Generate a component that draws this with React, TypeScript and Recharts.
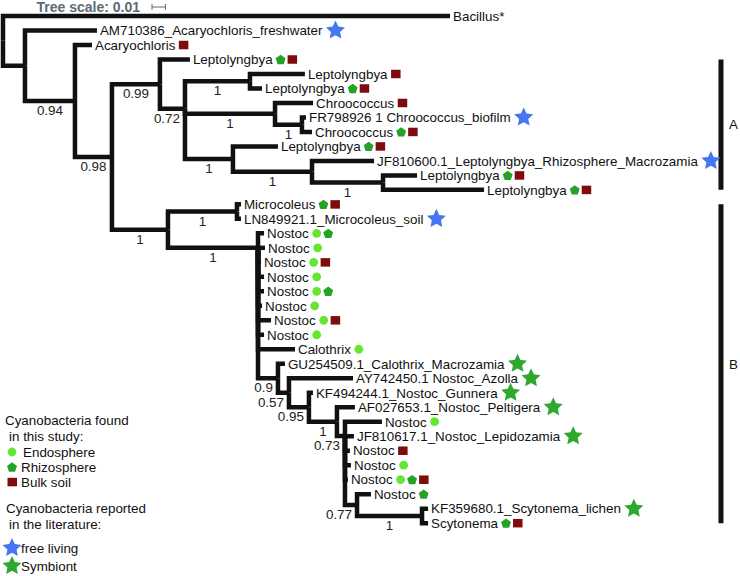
import { Scatter, ScatterChart, XAxis, YAxis } from "recharts";

const W = 740;
const H = 576;
const margin = { top: 1.5, right: 0, bottom: 9.4, left: 3 };
const xDomain = [0, 0.55];
const yDomain = [-1, 38];
const pxPerUnit = (W - margin.left - margin.right) / xDomain[1];
const font = "'Liberation Sans', Arial, Helvetica, sans-serif";
const fontSize = 13.4;

// internal nodes: branch length (substitutions/site) to parent, bootstrap support
const internalNodes = [
  { id: "root", parent: null, bl: 0 },
  { id: "n1", parent: "root", bl: 0.0164 },
  { id: "n2", parent: "n1", bl: 0.0373, support: 0.94 },
  { id: "n3", parent: "n2", bl: 0.0276, support: 0.98 },
  { id: "n4", parent: "n3", bl: 0.0358, support: 0.99 },
  { id: "n5", parent: "n4", bl: 0.0187, support: 0.72 },
  { id: "n6", parent: "n5", bl: 0.0485, support: 1 },
  { id: "n7", parent: "n5", bl: 0.0672, support: 1 },
  { id: "n9", parent: "n7", bl: 0.0201, support: 1 },
  { id: "n8", parent: "n5", bl: 0.0358, support: 1 },
  { id: "n10", parent: "n8", bl: 0.059, support: 1 },
  { id: "n11", parent: "n10", bl: 0.053, support: 1 },
  { id: "n12", parent: "n3", bl: 0.0418, support: 1 },
  { id: "n13", parent: "n12", bl: 0.0515, support: 1 },
  { id: "n14", parent: "n12", bl: 0.0672, support: 1 },
  { id: "n15", parent: "n14", bl: 0.0149, support: 0.9 },
  { id: "n16", parent: "n15", bl: 0.0082, support: 0.57 },
  { id: "n17", parent: "n16", bl: 0.0149, support: 0.95 },
  { id: "n18", parent: "n17", bl: 0.0209, support: 1 },
  { id: "n19", parent: "n18", bl: 0.006, support: 0.73 },
  { id: "n20", parent: "n19", bl: 0.009, support: 0.77 },
  { id: "n21", parent: "n20", bl: 0.0485, support: 1 }
];

// leaves in display order. marks: E endosphere, R rhizosphere, S bulk soil, F free living, Y symbiont
const leaves = [
  { name: "Bacillus*", parent: "root", bl: 0.3336, marks: "" },
  { name: "AM710386_Acaryochloris_freshwater", parent: "n1", bl: 0.0537, marks: "F" },
  { name: "Acaryochloris", parent: "n2", bl: 0.0127, marks: "S" },
  { name: "Leptolyngbya", parent: "n4", bl: 0.0224, marks: "RS" },
  { name: "Leptolyngbya", parent: "n6", bl: 0.041, marks: "S" },
  { name: "Leptolyngbya", parent: "n6", bl: 0.009, marks: "RS" },
  { name: "Chroococcus", parent: "n7", bl: 0.0284, marks: "S" },
  { name: "FR798926 1 Chroococcus_biofilm", parent: "n9", bl: 0.003, marks: "F" },
  { name: "Chroococcus", parent: "n9", bl: 0.0075, marks: "RS" },
  { name: "Leptolyngbya", parent: "n8", bl: 0.0336, marks: "RS" },
  { name: "JF810600.1_Leptolyngbya_Rhizosphere_Macrozamia", parent: "n10", bl: 0.0463, marks: "F" },
  { name: "Leptolyngbya", parent: "n11", bl: 0.0254, marks: "RS" },
  { name: "Leptolyngbya", parent: "n11", bl: 0.0754, marks: "RS" },
  { name: "Microcoleus", parent: "n13", bl: 0.003, marks: "RS" },
  { name: "LN849921.1_Microcoleus_soil", parent: "n13", bl: 0.003, marks: "F" },
  { name: "Nostoc", parent: "n14", bl: 0.0045, marks: "ER" },
  { name: "Nostoc", parent: "n14", bl: 0.0052, marks: "E" },
  { name: "Nostoc", parent: "n14", bl: 0.0022, marks: "ES" },
  { name: "Nostoc", parent: "n14", bl: 0.0045, marks: "E" },
  { name: "Nostoc", parent: "n14", bl: 0.0045, marks: "ER" },
  { name: "Nostoc", parent: "n14", bl: 0.003, marks: "E" },
  { name: "Nostoc", parent: "n14", bl: 0.0097, marks: "ES" },
  { name: "Nostoc", parent: "n14", bl: 0.0045, marks: "E" },
  { name: "Calothrix", parent: "n14", bl: 0.0276, marks: "E" },
  { name: "GU254509.1_Calothrix_Macrozamia", parent: "n15", bl: 0.0052, marks: "Y" },
  { name: "AY742450.1 Nostoc_Azolla", parent: "n16", bl: 0.0478, marks: "Y" },
  { name: "KF494244.1_Nostoc_Gunnera", parent: "n17", bl: 0.003, marks: "Y" },
  { name: "AF027653.1_Nostoc_Peltigera", parent: "n18", bl: 0.0134, marks: "Y" },
  { name: "Nostoc", parent: "n19", bl: 0.0276, marks: "E" },
  { name: "JF810617.1_Nostoc_Lepidozamia", parent: "n19", bl: 0.0067, marks: "Y" },
  { name: "Nostoc", parent: "n19", bl: 0.0037, marks: "S" },
  { name: "Nostoc", parent: "n19", bl: 0.0045, marks: "E" },
  { name: "Nostoc", parent: "n19", bl: 0.0022, marks: "ERS" },
  { name: "Nostoc", parent: "n20", bl: 0.0104, marks: "R" },
  { name: "KF359680.1_Scytonema_lichen", parent: "n21", bl: 0.0045, marks: "Y" },
  { name: "Scytonema", parent: "n21", bl: 0.0045, marks: "RS" }
];

const clades = [
  { name: "A", first: 3, last: 12 },
  { name: "B", first: 13, last: 35 }
];
const cladeBarDepth = 0.5358;

const scaleBar = { label: "Tree scale: 0.01", length: 0.01, start: 0.1112, row: -0.62 };

const foundLegend = [
  { label: "Endosphere", mark: "E" },
  { label: "Rhizosphere", mark: "R" },
  { label: "Bulk soil", mark: "S" }
];
const reportedLegend = [
  { label: "free living", mark: "F" },
  { label: "Symbiont", mark: "Y" }
];

const markColors: Record<string, string> = {
  E: "#66e633",
  R: "#26a226",
  S: "#7f0c0c",
  F: "#4677f2",
  Y: "#2ea82e"
};

type Item = { id: string; parent: string | null; bl: number; support?: number; row?: number; name?: string; marks?: string };

const items: Item[] = [
  ...internalNodes,
  ...leaves.map((leaf, i) => ({ ...leaf, id: `leaf${i}`, row: i }))
];
const byId = new Map(items.map((it) => [it.id, it]));
const kids = new Map<string, Item[]>();
items.forEach((it) => {
  if (!it.parent) return;
  if (!kids.has(it.parent)) kids.set(it.parent, []);
  kids.get(it.parent)!.push(it);
});

function depthOf(id: string): number {
  const it = byId.get(id)!;
  return it.parent ? depthOf(it.parent) + it.bl : 0;
}

// multifurcations are drawn like a ladder of binary nodes
function rowOf(id: string): number {
  const it = byId.get(id)!;
  if (it.row !== undefined) return it.row;
  const ys = kids.get(id)!.map((k) => rowOf(k.id)).sort((a, b) => a - b);
  let acc = ys[ys.length - 1];
  for (let i = ys.length - 2; i >= 0; i--) acc = (ys[i] + acc) / 2;
  return acc;
}

const edges = items
  .filter((it) => it.parent)
  .map((it) => {
    const px = depthOf(it.parent!);
    return [
      { x: px, y: rowOf(it.parent!) },
      { x: px, y: rowOf(it.id) },
      { x: depthOf(it.id), y: rowOf(it.id) }
    ];
  });

const leafPoints = leaves.map((leaf, i) => ({ x: depthOf(`leaf${i}`), y: i, name: leaf.name, marks: leaf.marks }));

const supportPoints = internalNodes
  .filter((n) => n.support !== undefined)
  .map((n) => ({ x: depthOf(n.id), y: rowOf(n.id), parentX: depthOf(n.parent!), support: n.support }));

let ctx: CanvasRenderingContext2D | null = null;
function textWidth(s: string, size = fontSize, weight = "normal") {
  if (!ctx) ctx = document.createElement("canvas").getContext("2d");
  ctx!.font = `${weight} ${size}px ${font}`;
  return ctx!.measureText(s).width;
}

function starPoints(cx: number, cy: number, R: number, r: number) {
  const pts: string[] = [];
  for (let i = 0; i < 10; i++) {
    const a = -Math.PI / 2 + (i * Math.PI) / 5;
    const rad = i % 2 === 0 ? R : r;
    pts.push(`${cx + rad * Math.cos(a)},${cy + rad * Math.sin(a)}`);
  }
  return pts.join(" ");
}

function pentPoints(cx: number, cy: number, R: number) {
  const pts: string[] = [];
  for (let i = 0; i < 5; i++) {
    const a = -Math.PI / 2 + (i * 2 * Math.PI) / 5;
    pts.push(`${cx + R * Math.cos(a)},${cy + 0.5 + R * Math.sin(a)}`);
  }
  return pts.join(" ");
}

function Mark({ type, x, y }: { type: string; x: number; y: number }) {
  const fill = markColors[type];
  if (type === "E") return <circle cx={x} cy={y} r={4.4} fill={fill} />;
  if (type === "R") return <polygon points={pentPoints(x, y, 5.2)} fill={fill} />;
  if (type === "S") return <rect x={x - 4.5} y={y - 4.2} width={9.5} height={8.5} fill={fill} />;
  return <polygon points={starPoints(x, y, 10, 4.8)} fill={fill} />;
}

const Blank = () => <g />;

const LeafLabel = (props: any) => {
  const { cx, cy, payload } = props;
  const tx = cx + 3;
  const w = textWidth(payload.name);
  const marks: string[] = payload.marks.split("");
  return (
    <g>
      <text x={tx} y={cy + 4.8} fontSize={fontSize} fontFamily={font} fill="#111">
        {payload.name}
      </text>
      {marks.map((m, i) => {
        const mx = m === "F" || m === "Y" ? tx + w + 13 : tx + w + 8 + i * 11.5;
        return <Mark key={i} type={m} x={mx} y={cy} />;
      })}
    </g>
  );
};

const SupportLabel = (props: any) => {
  const { cx, cy, payload } = props;
  const text = String(payload.support);
  const w = textWidth(text);
  const len = (payload.x - payload.parentX) * pxPerUnit;
  const center = cx - Math.max(len / 2, 5 + w / 2);
  return (
    <text x={center} y={cy + 14} textAnchor="middle" fontSize={fontSize} fontFamily={font} fill="#222">
      {text}
    </text>
  );
};

const ScaleTick = (props: any) => {
  const { cx, cy, index } = props;
  return (
    <g>
      <line x1={cx} x2={cx} y1={cy - 3} y2={cy + 3} stroke="#666" strokeWidth={1} />
      {index === 0 && (
        <text x={cx - 12} y={cy + 5} textAnchor="end" fontSize={14} fontWeight="bold" fontFamily={font} fill="#5d6a73">
          {scaleBar.label}
        </text>
      )}
    </g>
  );
};

const CladeLabel = (props: any) => {
  const { cx, cy, payload } = props;
  return (
    <text x={cx + 8} y={cy + 4.8} fontSize={fontSize} fontFamily={font} fill="#111">
      {payload.name}
    </text>
  );
};

function Legend() {
  const t = { fontSize, fontFamily: font, fill: "#111" };
  return (
    <svg width={W} height={H} style={{ position: "absolute", left: 0, top: 0, pointerEvents: "none" }}>
      <text x={5} y={424.5} {...t}>Cyanobacteria found</text>
      <text x={9} y={441} {...t}>in this study:</text>
      {foundLegend.map((item, i) => (
        <g key={item.label}>
          <Mark type={item.mark} x={12} y={452 + i * 15} />
          <text x={item.mark === "E" ? 23 : 21} y={456.8 + i * 15} {...t}>{item.label}</text>
        </g>
      ))}
      <text x={6} y={513} {...t}>Cyanobacteria reported</text>
      <text x={9} y={529} {...t}>in the literature:</text>
      {reportedLegend.map((item, i) => (
        <g key={item.label}>
          <Mark type={item.mark} x={12} y={548 + i * 18} />
          <text x={21} y={552.8 + i * 18} {...t}>{item.label}</text>
        </g>
      ))}
    </svg>
  );
}

export default function App() {
  return (
    <div style={{ position: "absolute", left: 0, top: 0, width: W, height: H, background: "#fff" }}>
      <ScatterChart width={W} height={H} margin={margin}>
        <XAxis type="number" dataKey="x" domain={xDomain} hide />
        <YAxis type="number" dataKey="y" domain={yDomain} reversed hide />

        {edges.map((edge, i) => (
          <Scatter
            key={`edge-${i}`}
            data={edge}
            fill="#111"
            stroke="#111"
            strokeWidth={4.5}
            line={{ stroke: "#111", strokeWidth: 4.5 }}
            lineType="joint"
            shape={Blank}
            isAnimationActive={false}
          />
        ))}

        <Scatter
          data={[
            { x: scaleBar.start, y: scaleBar.row },
            { x: scaleBar.start + scaleBar.length, y: scaleBar.row }
          ]}
          fill="#666"
          line={{ stroke: "#666", strokeWidth: 1 }}
          lineType="joint"
          shape={ScaleTick}
          isAnimationActive={false}
        />

        {clades.map((c) => (
          <Scatter
            key={`clade-${c.name}`}
            data={[
              { x: cladeBarDepth, y: c.first },
              { x: cladeBarDepth, y: c.last }
            ]}
            fill="#111"
            line={{ stroke: "#111", strokeWidth: 5 }}
            lineType="joint"
            shape={Blank}
            isAnimationActive={false}
          />
        ))}
        <Scatter
          data={clades.map((c) => ({ x: cladeBarDepth, y: (c.first + c.last) / 2, name: c.name }))}
          shape={CladeLabel}
          isAnimationActive={false}
        />

        <Scatter data={supportPoints} shape={SupportLabel} isAnimationActive={false} />
        <Scatter data={leafPoints} shape={LeafLabel} isAnimationActive={false} />
      </ScatterChart>
      <Legend />
    </div>
  );
}
